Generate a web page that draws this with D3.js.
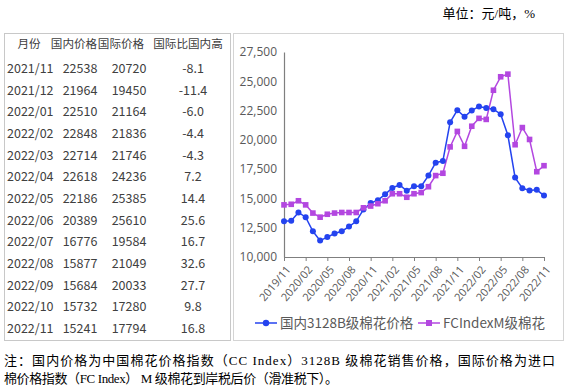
<!DOCTYPE html>
<html>
<head>
<meta charset="utf-8">
<script src="https://cdn.jsdelivr.net/npm/d3@7"></script>
<style>
  body { margin: 0; background: #fff; }
  svg { display: block; }
</style>
</head>
<body>
<svg id="chart" width="568" height="387"></svg>
<script>
// 表格数据
const tableMonths = ["2021/11","2021/12","2022/01","2022/02","2022/03","2022/04","2022/05","2022/06","2022/07","2022/08","2022/09","2022/10","2022/11"];
const tableDomestic = [22538, 21964, 22510, 22848, 22714, 22618, 22186, 20389, 16776, 15877, 15684, 15732, 15241];
const tableIntl = [20720, 19450, 21164, 21836, 21746, 24236, 25385, 25610, 19584, 21049, 20033, 17280, 17794];
const tableRatio = ["-8.1","-11.4","-6.0","-4.4","-4.3","7.2","14.4","25.6","16.7","32.6","27.7","9.8","16.8"];
const tableHeader = ["月份","国内价格","国际价格","国际比国内高"];

// 折线图数据 (2019/11 - 2021/10 从图上估读, 之后与表格一致)
const months = ["2019/11","2019/12","2020/01","2020/02","2020/03","2020/04","2020/05","2020/06","2020/07","2020/08","2020/09","2020/10",
  "2020/11","2020/12","2021/01","2021/02","2021/03","2021/04","2021/05","2021/06","2021/07","2021/08","2021/09","2021/10",
  "2021/11","2021/12","2022/01","2022/02","2022/03","2022/04","2022/05","2022/06","2022/07","2022/08","2022/09","2022/10","2022/11"];
const domesticEarly = [13050, 13100, 13800, 13400, 12200, 11400, 11700, 12000, 12200, 12600, 13050, 14050,
  14600, 14850, 15350, 15900, 16150, 15650, 16050, 16050, 16950, 18050, 18200, 21500];
const intlEarly = [14450, 14500, 14800, 14450, 13750, 13400, 13650, 13750, 13800, 13800, 13800, 14200,
  14350, 14550, 14800, 15400, 15400, 15100, 15400, 15500, 16000, 16950, 17150, 19400];
const domestic = domesticEarly.concat(tableDomestic);
const intl = intlEarly.concat(tableIntl);
const yTicks = [10000, 12500, 15000, 17500, 20000, 22500, 25000, 27500];
const xTickLabels = ["2019/11","2020/02","2020/05","2020/08","2020/11","2021/02","2021/05","2021/08","2021/11","2022/02","2022/05","2022/08","2022/11"];
const seriesNames = ["国内3128B级棉花价格", "FCIndexM级棉花"];

const svg = d3.select("#chart");
const cjk = "'Noto Sans CJK SC', 'Noto Sans', sans-serif";
const textColor = "#404040";
const blue = "#2443ef";
const purple = "#b347e0";

// 单位
svg.append("text")
    .attr("x", 535).attr("y", 18)
    .attr("text-anchor", "end")
    .attr("font-family", "'Liberation Serif', 'Noto Sans CJK SC', serif")
    .attr("font-size", 13)
    .attr("fill", "#000")
    .text("单位：元/吨，%");

// 表格框
svg.append("rect")
    .attr("x", 4.5).attr("y", 33.5)
    .attr("width", 226).attr("height", 307)
    .attr("fill", "none").attr("stroke", "#c8c8c8");

const colX = [29, 74, 121, 188];
const header = svg.append("g")
    .attr("font-family", cjk).attr("font-size", 11.6).attr("fill", textColor);
header.selectAll("text")
    .data(tableHeader)
    .join("text")
    .attr("x", (d, i) => colX[i])
    .attr("y", 48)
    .attr("text-anchor", "middle")
    .text(d => d);

const rowY = d3.scaleLinear().domain([0, 12]).range([73, 333]);
const rows = svg.append("g")
    .attr("font-family", cjk).attr("font-size", 12.5).attr("fill", textColor)
    .selectAll("g")
    .data(tableMonths)
    .join("g")
    .attr("transform", (d, i) => `translate(0, ${rowY(i)})`);
rows.append("text").attr("x", 7).text(d => d);
rows.append("text").attr("x", 80).attr("text-anchor", "middle").text((d, i) => tableDomestic[i]);
rows.append("text").attr("x", 129).attr("text-anchor", "middle").text((d, i) => tableIntl[i]);
rows.append("text").attr("x", 193).attr("text-anchor", "middle").text((d, i) => tableRatio[i]);

// 图表框
svg.append("rect")
    .attr("x", 233.5).attr("y", 33.5)
    .attr("width", 330).attr("height", 307)
    .attr("fill", "none").attr("stroke", "#d4d4d4");

const xScale = d3.scalePoint().domain(months).range([284, 544]);
const yScale = d3.scaleLinear().domain([10000, 27500]).range([257, 52]);

// 纵轴
const yAxis = svg.append("g")
    .attr("transform", "translate(284,0)")
    .call(d3.axisLeft(yScale).tickValues(yTicks).tickFormat(d3.format(",")).tickSize(0).tickPadding(7));
yAxis.select(".domain").attr("stroke", "#7f7f7f").attr("stroke-width", 1.2);
yAxis.selectAll("text")
    .attr("font-family", "'Open Sans', sans-serif").attr("font-size", 12).attr("fill", "#595959");

// 横轴
const xAxis = svg.append("g")
    .attr("transform", "translate(0,257)")
    .call(d3.axisBottom(xScale).tickValues(xTickLabels).tickSizeInner(4).tickSizeOuter(0));
xAxis.select(".domain").attr("stroke", "#7f7f7f").attr("stroke-width", 1.2);
xAxis.selectAll(".tick line").attr("stroke", "#7f7f7f");
xAxis.selectAll("text")
    .attr("font-family", "'Open Sans', sans-serif").attr("font-size", 11).attr("fill", "#595959")
    .attr("text-anchor", "end")
    .attr("transform", "rotate(-50)")
    .attr("dx", "-0.5em").attr("dy", "0.6em");

// 折线
const line = d3.line().x((d, i) => xScale(months[i])).y(d => yScale(d));
svg.append("path").datum(domestic)
    .attr("d", line).attr("fill", "none").attr("stroke", blue).attr("stroke-width", 1.5);
svg.append("path").datum(intl)
    .attr("d", line).attr("fill", "none").attr("stroke", purple).attr("stroke-width", 1.5);

svg.append("g").selectAll("circle")
    .data(domestic)
    .join("circle")
    .attr("cx", (d, i) => xScale(months[i]))
    .attr("cy", d => yScale(d))
    .attr("r", 3)
    .attr("fill", blue);
svg.append("g").selectAll("rect")
    .data(intl)
    .join("rect")
    .attr("x", (d, i) => xScale(months[i]) - 2.8)
    .attr("y", d => yScale(d) - 2.8)
    .attr("width", 5.6).attr("height", 5.6)
    .attr("fill", purple);

// 图例
const legend = svg.append("g").attr("font-family", cjk).attr("font-size", 13.5).attr("fill", "#595959");
const legendX = [255, 418];
const legendColor = [blue, purple];
seriesNames.forEach((name, i) => {
    const g = legend.append("g").attr("transform", `translate(${legendX[i]}, 323)`);
    g.append("line").attr("x1", 0).attr("x2", 22).attr("stroke", legendColor[i]).attr("stroke-width", 1.5);
    if (i === 0) g.append("circle").attr("cx", 11).attr("r", 3.2).attr("fill", blue);
    else g.append("rect").attr("x", 8).attr("y", -3).attr("width", 6).attr("height", 6).attr("fill", purple);
    g.append("text").attr("x", 25).attr("y", 5).text(name);
});

// 注释
const note = svg.append("g")
    .attr("font-family", "'Liberation Serif', 'Noto Sans CJK SC', serif")
    .attr("font-size", 13).attr("fill", "#000");
note.append("text").attr("x", 4).attr("y", 365)
    .attr("textLength", 551).attr("lengthAdjust", "spacing")
    .text("注：国内价格为中国棉花价格指数（CC Index）3128B 级棉花销售价格，国际价格为进口");
note.append("text").attr("x", 4).attr("y", 383)
    .attr("textLength", 334).attr("lengthAdjust", "spacing")
    .text("棉价格指数（FC Index） M 级棉花到岸税后价（滑准税下）。");
</script>
</body>
</html>
